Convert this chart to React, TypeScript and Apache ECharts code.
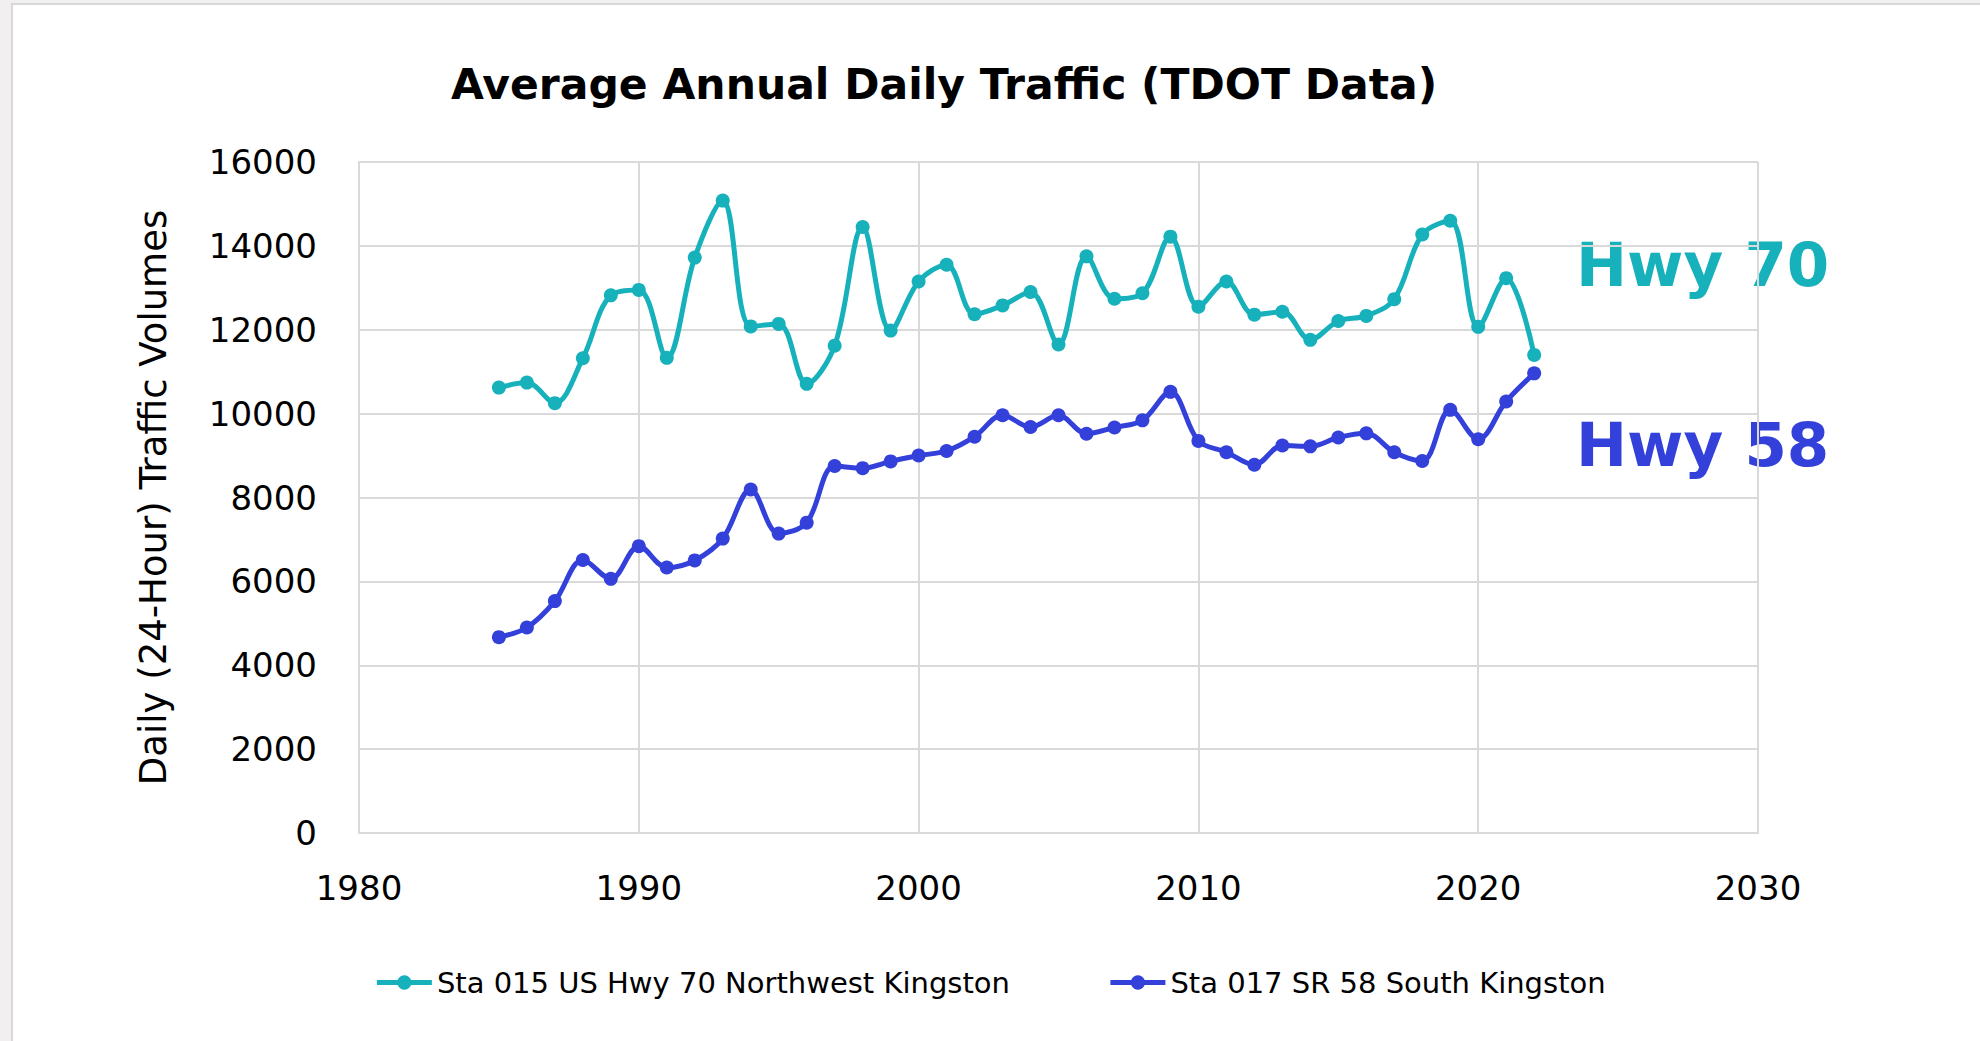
import React, { useEffect, useRef } from "react";
import * as echarts from "echarts";

const years = [1985, 1986, 1987, 1988, 1989, 1990, 1991, 1992, 1993, 1994, 1995, 1996, 1997, 1998, 1999, 2000, 2001, 2002, 2003, 2004, 2005, 2006, 2007, 2008, 2009, 2010, 2011, 2012, 2013, 2014, 2015, 2016, 2017, 2018, 2019, 2020, 2021, 2022];

const hwy70 = [10620, 10740, 10250, 11320, 12820, 12950, 11330, 13720, 15080, 12080, 12140, 10710, 11620, 14450, 11980, 13150, 13550, 12370, 12580, 12900, 11650, 13750, 12740, 12870, 14220, 12550, 13150, 12360, 12430, 11760, 12210, 12330, 12730, 14270, 14600, 12070, 13230, 11400];

const hwy58 = [4670, 4900, 5530, 6510, 6060, 6840, 6330, 6500, 7020, 8190, 7140, 7400, 8750, 8700, 8860, 9000, 9110, 9450, 9960, 9680, 9960, 9520, 9670, 9840, 10520, 9350, 9080, 8780, 9240, 9220, 9430, 9530, 9080, 8870, 10090, 9390, 10290, 10960];

const seriesNames = ["Sta 015 US Hwy 70 Northwest Kingston", "Sta 017 SR 58 South Kingston"];
const annotations = ["Hwy 70", "Hwy 58"];
const titleText = "Average Annual Daily Traffic (TDOT Data)";
const yAxisName = "Daily (24-Hour) Traffic Volumes";

const TEAL = "#17B1BC";
const BLUE = "#3340DA";
const FONT = "DejaVu Sans";

export default function App() {
  const ref = useRef<HTMLDivElement>(null);

  useEffect(() => {
    if (!ref.current) return;
    const chart = echarts.init(ref.current, null, { renderer: "svg" });
    const d70 = years.map((y, i) => [y, hwy70[i]]);
    const d58 = years.map((y, i) => [y, hwy58[i]]);

    chart.setOption({
      animation: false,
      backgroundColor: "#F1EFEF",
      textStyle: { fontFamily: FONT },
      title: {
        text: titleText,
        left: 939,
        top: 58,
        textAlign: "center",
        textStyle: { fontFamily: FONT, fontSize: 42.5, fontWeight: "bold", color: "#000" },
      },
      graphic: [
        {
          type: "rect",
          z: -10,
          shape: { x: 12, y: 4, width: 1980, height: 1050 },
          style: { fill: "#ffffff", stroke: "#D8D8D8", lineWidth: 2 },
          silent: true,
        },
        {
          type: "text",
          x: 1576,
          y: 264,
          style: {
            text: annotations[0],
            fill: TEAL,
            font: `bold 61px "${FONT}"`,
            verticalAlign: "middle",
            align: "left",
          },
        },
        {
          type: "text",
          x: 1576,
          y: 444,
          style: {
            text: annotations[1],
            fill: BLUE,
            font: `bold 61px "${FONT}"`,
            verticalAlign: "middle",
            align: "left",
          },
        },
      ],
      legend: {
        top: 963,
        left: "center",
        itemWidth: 55,
        itemHeight: 18,
        itemGap: 98,
        lineStyle: { width: 5 },
        textStyle: { fontFamily: FONT, fontSize: 29, color: "#000" },
        data: seriesNames,
      },
      grid: { left: 359, top: 162, width: 1399, height: 671, containLabel: false },
      xAxis: {
        type: "value",
        min: 1980,
        max: 2030,
        interval: 10,
        axisLine: { show: true, lineStyle: { color: "#D9D9D9", width: 2 } },
        axisTick: { show: false },
        axisLabel: {
          fontFamily: FONT,
          fontSize: 34,
          color: "#000",
          margin: 38,
          formatter: (v: number) => String(v),
        },
        splitLine: { show: true, lineStyle: { color: "#D9D9D9", width: 2 } },
      },
      yAxis: {
        type: "value",
        min: 0,
        max: 16000,
        interval: 2000,
        name: yAxisName,
        nameLocation: "middle",
        nameGap: 187,
        nameTextStyle: { fontFamily: FONT, fontSize: 37, color: "#000" },
        axisLine: { show: true, lineStyle: { color: "#D9D9D9", width: 2 } },
        axisTick: { show: false },
        axisLabel: {
          fontFamily: FONT,
          fontSize: 34,
          color: "#000",
          margin: 42,
          formatter: (v: number) => String(v),
        },
        splitLine: { show: true, lineStyle: { color: "#D9D9D9", width: 2 } },
      },
      series: [
        {
          name: seriesNames[0],
          type: "line",
          data: d70,
          smooth: 0.35,
          symbol: "circle",
          symbolSize: 14,
          lineStyle: { color: TEAL, width: 5 },
          itemStyle: { color: TEAL },
        },
        {
          name: seriesNames[1],
          type: "line",
          data: d58,
          smooth: 0.35,
          symbol: "circle",
          symbolSize: 14,
          lineStyle: { color: BLUE, width: 5 },
          itemStyle: { color: BLUE },
        },
      ],
    });

    return () => chart.dispose();
  }, []);

  return (
    <div
      ref={ref}
      style={{ position: "fixed", left: 0, top: 0, width: "1980px", height: "1041px" }}
    />
  );
}
